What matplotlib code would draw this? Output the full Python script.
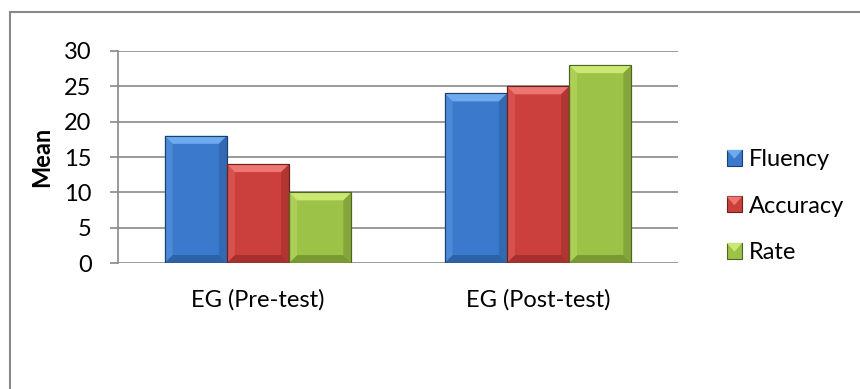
import numpy as np
import matplotlib
matplotlib.use("Agg")
import matplotlib.pyplot as plt
from matplotlib.patches import Polygon, Patch, Rectangle
from matplotlib.lines import Line2D
from matplotlib.legend_handler import HandlerBase

# --------------------------------------------
# DATA
# --------------------------------------------
groups = ["EG (Pre-test)", "EG (Post-test)"]
series = ["Fluency", "Accuracy", "Rate"]
fluency = [18, 24]
accuracy = [14, 25]
rate = [10, 28]
values = [fluency, accuracy, rate]
yticks = [0, 5, 10, 15, 20, 25, 30]

# face, light bevel, dark bevel, outline
palette = {
    "Fluency": ("#3a79cc", "#6eaaee", "#2a5d9e", "#1d3f6e"),
    "Accuracy": ("#cb403c", "#ee7670", "#9c2d2a", "#6e1f1d"),
    "Rate": ("#9dc248", "#cbe873", "#72902f", "#4f6620"),
}

plt.rcParams["font.family"] = ["Lato", "DejaVu Sans"]

fig = plt.figure(figsize=(8.6, 3.89), dpi=100)
ax = fig.add_axes([0.1372, 0.3239, 0.6512, 0.5450])
ax.set_xlim(-0.5, 1.5)
ax.set_ylim(0, 30)

# --------------------------------------------
# GROUPED BARS (gap width 150%)
# --------------------------------------------
x = np.arange(len(groups))
width = 1 / (len(series) + 1.5)
offsets = (np.arange(len(series)) - (len(series) - 1) / 2) * width

bars = {}
for name, vals, off in zip(series, values, offsets):
    face, light, dark, edge = palette[name]
    bars[name] = ax.bar(x + off, vals, width, color=face, edgecolor=edge,
                        linewidth=0.8, zorder=3)

# bevel look: trapezoids along the bar edges, sized in pixels
bevel_px = 8
fig.canvas.draw()
px_x = ax.transData.transform((1, 0))[0] - ax.transData.transform((0, 0))[0]
px_y = ax.transData.transform((0, 1))[1] - ax.transData.transform((0, 0))[1]
dx = bevel_px / px_x
dy = bevel_px / px_y


def add_poly(pts, color, alpha=1.0, z=4):
    ax.add_patch(Polygon(pts, closed=True, facecolor=color, edgecolor="none",
                         alpha=alpha, zorder=z))


for name in series:
    face, light, dark, edge = palette[name]
    for rect in bars[name]:
        x0, y0 = rect.get_x(), rect.get_y()
        x1, y1 = x0 + rect.get_width(), y0 + rect.get_height()
        # slight shadow under the bar
        ax.add_patch(Rectangle((x0 + dx * 0.3, y0 - dy * 0.35), x1 - x0, dy * 0.35,
                               facecolor="#b0b0b0", edgecolor="none", zorder=2.5))
        add_poly([(x0, y1), (x1, y1), (x1 - dx, y1 - dy), (x0 + dx, y1 - dy)], light)
        add_poly([(x0, y0), (x1, y0), (x1 - dx, y0 + dy), (x0 + dx, y0 + dy)], dark, 0.8)
        add_poly([(x0, y0), (x0 + dx, y0 + dy), (x0 + dx, y1 - dy), (x0, y1)], light, 0.35)
        add_poly([(x1, y0), (x1 - dx, y0 + dy), (x1 - dx, y1 - dy), (x1, y1)], dark, 0.55)
        ax.add_patch(Rectangle((x0, y0), x1 - x0, y1 - y0, facecolor="none",
                               edgecolor=edge, linewidth=0.8, zorder=5))


class BevelHandler(HandlerBase):
    def create_artists(self, legend, orig_handle, xdescent, ydescent,
                       width, height, fontsize, trans):
        face = orig_handle.get_facecolor()
        name = orig_handle.get_label()
        light, dark, edge = palette[name][1:]
        w, h = width, height
        x0, y0 = -xdescent, -ydescent
        body = Rectangle((x0, y0), w, h, facecolor=face, edgecolor=edge,
                         linewidth=0.8, transform=trans)
        tri = Polygon([(x0, y0 + h), (x0 + w, y0 + h), (x0 + w / 2, y0 + h * 0.45)],
                      closed=True, facecolor=light, edgecolor="none", transform=trans)
        return [body, tri]


# --------------------------------------------
# AXES STYLE
# --------------------------------------------
grid_color = "#898989"
ax.set_yticks(yticks)
ax.yaxis.grid(True, color=grid_color, linewidth=1.2, zorder=0)
ax.set_axisbelow(True)
for s in ["top", "right", "bottom"]:
    ax.spines[s].set_visible(False)
ax.spines["left"].set_color(grid_color)
ax.spines["left"].set_linewidth(1.2)
ax.tick_params(axis="y", length=6, width=1.2, color=grid_color, pad=13,
               labelsize=17, labelcolor="#000000")
ax.set_xticks(x)
ax.set_xticklabels(groups)
ax.tick_params(axis="x", length=0, pad=19, labelsize=17)
ax.set_ylabel("Mean", fontsize=17, fontweight="bold", labelpad=8)

# --------------------------------------------
# LEGEND
# --------------------------------------------
handles = [Patch(facecolor=palette[n][0], edgecolor=palette[n][3], label=n)
           for n in series]
leg = fig.legend(handles, series, loc="center left", bbox_to_anchor=(0.845, 0.47),
                 frameon=False, fontsize=17, handlelength=0.65, handleheight=0.65,
                 handletextpad=0.3, labelspacing=1.08, borderpad=0, borderaxespad=0,
                 handler_map={Patch: BevelHandler()})

# chart frame (only top and left edges fall inside the image)
fig.add_artist(Line2D([9.5 / 860, 9.5 / 860], [0, 1 - 12 / 389],
                      transform=fig.transFigure, color=grid_color, linewidth=1.5))
fig.add_artist(Line2D([9.5 / 860, 1], [1 - 12 / 389, 1 - 12 / 389],
                      transform=fig.transFigure, color=grid_color, linewidth=1.5))

fig.savefig("out.png", dpi=100)
plt.close(fig)
